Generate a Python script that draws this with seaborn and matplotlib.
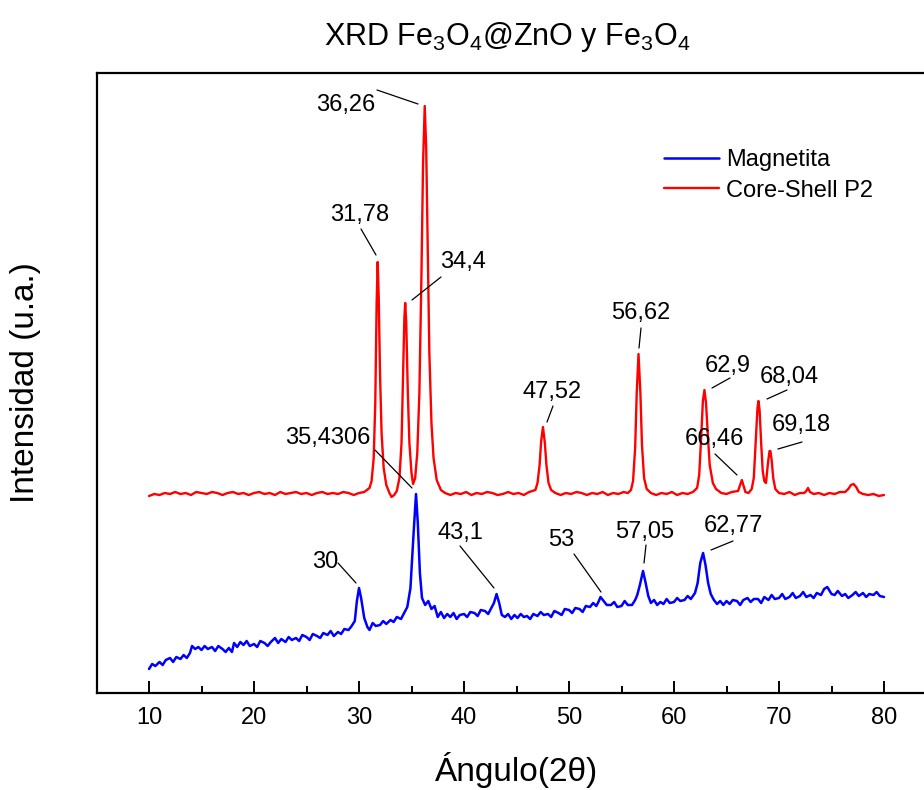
import matplotlib
matplotlib.use("Agg")
import matplotlib.pyplot as plt
import seaborn as sns
import pandas as pd
from matplotlib.ticker import MultipleLocator

# ---------------- data ----------------
blue_x = [10.0, 10.3, 10.6, 11.0, 11.3, 11.6, 12.0, 12.3, 12.6, 13.0, 13.3, 13.6, 13.9, 14.1, 14.4,
          14.7, 15.0, 15.3, 15.6, 16.0, 16.3, 16.6, 17.0, 17.3, 17.6, 17.9, 18.1, 18.4, 18.7, 19.0,
          19.3, 19.6, 20.0, 20.3, 20.6, 21.0, 21.3, 21.6, 22.0, 22.3, 22.6, 23.0, 23.3, 23.6, 24.0,
          24.3, 24.6, 25.0, 25.3, 25.6, 26.0, 26.3, 26.6, 27.0, 27.3, 27.6, 28.0, 28.3, 28.6, 29.0,
          29.3, 29.6, 29.8, 30.0, 30.2, 30.5, 30.8, 31.0, 31.3, 31.6, 32.0, 32.3, 32.6, 33.0, 33.3,
          33.6, 34.0, 34.3, 34.6, 34.9, 35.2, 35.43, 35.6, 35.8, 36.0, 36.3, 36.6, 36.9, 37.2, 37.5,
          37.8, 38.1, 38.4, 38.7, 39.0, 39.3, 39.6, 40.0, 40.3, 40.6, 41.0, 41.3, 41.6, 42.0, 42.3,
          42.6, 42.85, 43.1, 43.35, 43.6, 43.9, 44.2, 44.5, 44.8, 45.1, 45.4, 45.7, 46.0, 46.3, 46.6,
          47.0, 47.3, 47.6, 48.0, 48.3, 48.6, 49.0, 49.3, 49.6, 50.0, 50.3, 50.6, 51.0, 51.3, 51.6,
          52.0, 52.3, 52.6, 52.8, 53.0, 53.3, 53.6, 54.0, 54.3, 54.6, 55.0, 55.3, 55.6, 56.0, 56.3,
          56.5, 56.75, 57.05, 57.3, 57.55, 57.8, 58.1, 58.4, 58.7, 59.0, 59.3, 59.6, 60.0, 60.3, 60.6,
          61.0, 61.3, 61.6, 62.0, 62.25, 62.5, 62.77, 63.0, 63.25, 63.5, 63.8, 64.1, 64.4, 64.7, 65.0,
          65.3, 65.6, 66.0, 66.3, 66.6, 67.0, 67.3, 67.6, 68.0, 68.3, 68.6, 69.0, 69.3, 69.6, 70.0,
          70.3, 70.6, 71.0, 71.3, 71.6, 72.0, 72.3, 72.6, 73.0, 73.3, 73.6, 74.0, 74.3, 74.6, 75.0,
          75.3, 75.6, 76.0, 76.3, 76.6, 77.0, 77.3, 77.6, 78.0, 78.3, 78.6, 79.0, 79.3, 79.6, 80.0]
blue_y = [24, 29, 27, 31, 28, 33, 35, 31, 36, 34, 38, 35, 40, 47, 44,
          46, 43, 47, 44, 46, 42, 47, 44, 41, 45, 41, 50, 46, 51, 48,
          52, 47, 49, 46, 52, 50, 47, 51, 55, 50, 54, 51, 56, 53, 55,
          52, 58, 56, 53, 59, 57, 55, 60, 58, 62, 57, 61, 59, 64, 63,
          67, 72, 92, 105, 95, 75, 66, 63, 70, 67, 68, 72, 69, 73, 71,
          76, 74, 80, 86, 105, 160, 199, 170, 120, 95, 88, 92, 84, 87, 76,
          81, 75, 79, 76, 80, 74, 78, 79, 76, 81, 80, 77, 83, 82, 79,
          85, 90, 99, 90, 78, 76, 79, 74, 78, 75, 79, 76, 77, 74, 79,
          77, 81, 78, 79, 76, 82, 80, 78, 84, 83, 80, 85, 84, 81, 87,
          86, 90, 87, 91, 96, 92, 88, 88, 91, 86, 87, 92, 88, 88, 93,
          98, 108, 122, 110, 97, 90, 93, 88, 91, 89, 94, 90, 91, 95, 92,
          93, 97, 94, 100, 110, 130, 140, 128, 110, 99, 93, 89, 92, 88, 92,
          89, 93, 92, 88, 93, 95, 91, 94, 94, 90, 96, 93, 98, 94, 95,
          99, 94, 96, 100, 95, 97, 101, 96, 98, 95, 100, 98, 104, 106, 99,
          98, 102, 97, 99, 95, 98, 101, 97, 100, 96, 99, 98, 101, 97, 96]

red_x = [10.0, 10.5, 11.0, 11.5, 12.0, 12.5, 13.0, 13.5, 14.0, 14.5, 15.0, 15.5, 16.0, 16.5, 17.0,
         17.5, 18.0, 18.5, 19.0, 19.5, 20.0, 20.5, 21.0, 21.5, 22.0, 22.5, 23.0, 23.5, 24.0, 24.5,
         25.0, 25.5, 26.0, 26.5, 27.0, 27.5, 28.0, 28.5, 29.0, 29.5, 30.0, 30.5, 31.0, 31.2, 31.4,
         31.55, 31.68, 31.78, 31.88, 32.0, 32.15, 32.35, 32.6, 32.9, 33.1, 33.35, 33.6, 33.85, 34.05, 34.2,
         34.32, 34.4, 34.5, 34.65, 34.8, 35.0, 35.15, 35.35, 35.55, 35.75, 35.95, 36.1, 36.26, 36.4, 36.55,
         36.7, 36.9, 37.1, 37.4, 37.8, 38.2, 38.7, 39.2, 39.7, 40.2, 40.7, 41.2, 41.7, 42.2, 42.7,
         43.2, 43.7, 44.2, 44.7, 45.2, 45.7, 46.2, 46.8, 47.0, 47.2, 47.35, 47.52, 47.7, 47.85, 48.05,
         48.3, 48.7, 49.2, 49.7, 50.2, 50.7, 51.2, 51.7, 52.2, 52.7, 53.2, 53.7, 54.2, 54.7, 55.2,
         55.6, 55.9, 56.1, 56.3, 56.45, 56.62, 56.8, 56.95, 57.15, 57.4, 57.8, 58.3, 58.8, 59.3, 59.8,
         60.3, 60.8, 61.3, 61.8, 62.2, 62.4, 62.6, 62.75, 62.9, 63.05, 63.2, 63.4, 63.7, 64.0, 64.5,
         65.0, 65.5, 66.1, 66.3, 66.46, 66.6, 66.8, 67.1, 67.4, 67.6, 67.8, 67.95, 68.04, 68.15, 68.3,
         68.45, 68.6, 68.76, 68.95, 69.1, 69.18, 69.3, 69.45, 69.65, 70.0, 70.5, 71.0, 71.5, 72.0, 72.4,
         72.6, 72.76, 72.95, 73.3, 73.8, 74.3, 74.8, 75.3, 75.8, 76.3, 76.6, 76.85, 77.1, 77.35, 77.6,
         78.0, 78.5, 79.0, 79.5, 80.0]
red_y = [197, 199, 198, 200, 199, 201, 199, 200, 198, 201, 200, 199, 201, 200, 198,
         200, 201, 199, 200, 198, 200, 201, 199, 200, 198, 201, 199, 200, 201, 199,
         200, 198, 200, 201, 199, 200, 199, 201, 200, 198, 200, 201, 205, 212, 235,
         290, 390, 431, 395, 320, 260, 225, 208, 200, 196, 198, 202, 215, 250, 320,
         375, 390, 370, 300, 250, 220, 209, 215, 240, 300, 420, 530, 587, 545, 440,
         340, 270, 235, 213, 203, 200, 198, 200, 199, 201, 198, 200, 199, 201, 200,
         198, 199, 201, 199, 200, 198, 201, 203, 210, 228, 252, 266, 250, 228, 210,
         203, 200, 198, 200, 199, 201, 200, 198, 200, 199, 201, 198, 200, 199, 201,
         200, 203, 212, 245, 300, 339, 300, 248, 215, 204, 200, 198, 200, 199, 201,
         198, 200, 199, 201, 205, 218, 258, 292, 303, 290, 262, 228, 210, 204, 200,
         199, 201, 202, 208, 213, 208, 201, 200, 204, 215, 255, 285, 292, 283, 250,
         222, 212, 210, 230, 242, 242, 233, 215, 204, 200, 199, 201, 198, 200, 200,
         202, 205, 201, 199, 200, 198, 200, 199, 201, 201, 204, 208, 209, 206, 201,
         199, 198, 199, 197, 198]

# peak labels
red_labels = ["36,26", "31,78", "34,4", "35,4306", "47,52", "56,62", "62,9", "68,04", "66,46", "69,18"]
blue_labels = ["30", "43,1", "53", "57,05", "62,77"]

series_names = ["Magnetita", "Core-Shell P2"]
x_ticks = [10, 20, 30, 40, 50, 60, 70, 80]

# ---------------- layout helpers ----------------
W, H = 924, 790
def px2x(px):
    return 10 + (px - 149) / 10.5
def py2y(py):
    return 693 - py

# annotation layout: text centre (px, py), leader line start/end (px, py)
ann_layout = {
    "36,26":   ((346, 105), (377, 90), (418, 104)),
    "31,78":   ((360, 215), (361, 229), (376, 255)),
    "34,4":    ((463, 262), (441, 277), (412, 300)),
    "35,4306": ((328, 438), (375, 450), (412, 488)),
    "47,52":   ((552, 392), (553, 406), (547, 422)),
    "56,62":   ((641, 313), (641, 328), (639, 348)),
    "62,9":    ((728, 366), (730, 378), (712, 388)),
    "68,04":   ((789, 377), (787, 390), (767, 399)),
    "66,46":   ((714, 439), (715, 454), (737, 475)),
    "69,18":   ((801, 425), (802, 442), (778, 449)),
    "30":      ((325, 562), (338, 563), (356, 583)),
    "43,1":    ((460, 533), (460, 546), (494, 588)),
    "53":      ((561, 540), (574, 554), (601, 592)),
    "57,05":   ((645, 532), (646, 545), (644, 563)),
    "62,77":   ((733, 526), (733, 541), (711, 550)),
}

# ---------------- plot ----------------
sns.set_theme(style="white")
plt.rcParams["font.family"] = ["Liberation Sans", "DejaVu Sans"]
plt.rcParams["mathtext.fontset"] = "custom"
plt.rcParams["mathtext.rm"] = "Liberation Sans"
plt.rcParams["text.color"] = "black"
plt.rcParams["axes.labelcolor"] = "black"
plt.rcParams["xtick.color"] = "black"

fig = plt.figure(figsize=(W / 100, H / 100), dpi=100)
ax = fig.add_axes([97 / W, (790 - 693) / H, (936.5 - 97) / W, 620 / H])

df_b = pd.DataFrame({"x": blue_x, "y": blue_y})
df_r = pd.DataFrame({"x": red_x, "y": red_y})
sns.lineplot(data=df_b, x="x", y="y", ax=ax, color="#0000ff", lw=1.8, sort=False,
             label=series_names[0])
sns.lineplot(data=df_r, x="x", y="y", ax=ax, color="#ff0000", lw=1.7, sort=False,
             label=series_names[1])

ax.set_xlim(px2x(97), px2x(936.5))
ax.set_ylim(0, 620)
ax.set_xticks(x_ticks)
ax.xaxis.set_minor_locator(MultipleLocator(5))
ax.set_yticks([])
ax.tick_params(axis="x", which="major", direction="in", length=9, width=1.4,
               labelsize=17, pad=10, colors="black", bottom=True, top=False)
ax.tick_params(axis="x", which="minor", direction="in", length=5, width=1.4,
               bottom=True, top=False)
for s in ["left", "bottom", "top"]:
    ax.spines[s].set_visible(True)
    ax.spines[s].set_linewidth(1.6)
    ax.spines[s].set_color("black")
ax.spines["right"].set_visible(False)

ax.set_xlabel("Ángulo(2θ)", fontsize=24, labelpad=17)
ax.set_ylabel("Intensidad (u.a.)", fontsize=24, labelpad=40)

fig.text(507 / W, 1 - 37 / H,
         r"XRD Fe$_\mathregular{3}$O$_\mathregular{4}$@ZnO y Fe$_\mathregular{3}$O$_\mathregular{4}$",
         ha="center", va="center", fontsize=22)

for lab in red_labels + blue_labels:
    (tx, ty), (l0x, l0y), (l1x, l1y) = ann_layout[lab]
    ax.text(px2x(tx), py2y(ty), lab, ha="center", va="center", fontsize=17, color="black")
    ax.plot([px2x(l0x), px2x(l1x)], [py2y(l0y), py2y(l1y)], color="black", lw=0.9)

leg = ax.legend(loc="upper left", bbox_to_anchor=((643 - 97) / (936.5 - 97), (693 - 128) / 620),
                frameon=False, fontsize=17, handlelength=2.3, handletextpad=0.3,
                labelspacing=0.35)
for t in leg.get_texts():
    t.set_color("black")

fig.savefig("out.png", dpi=100)
